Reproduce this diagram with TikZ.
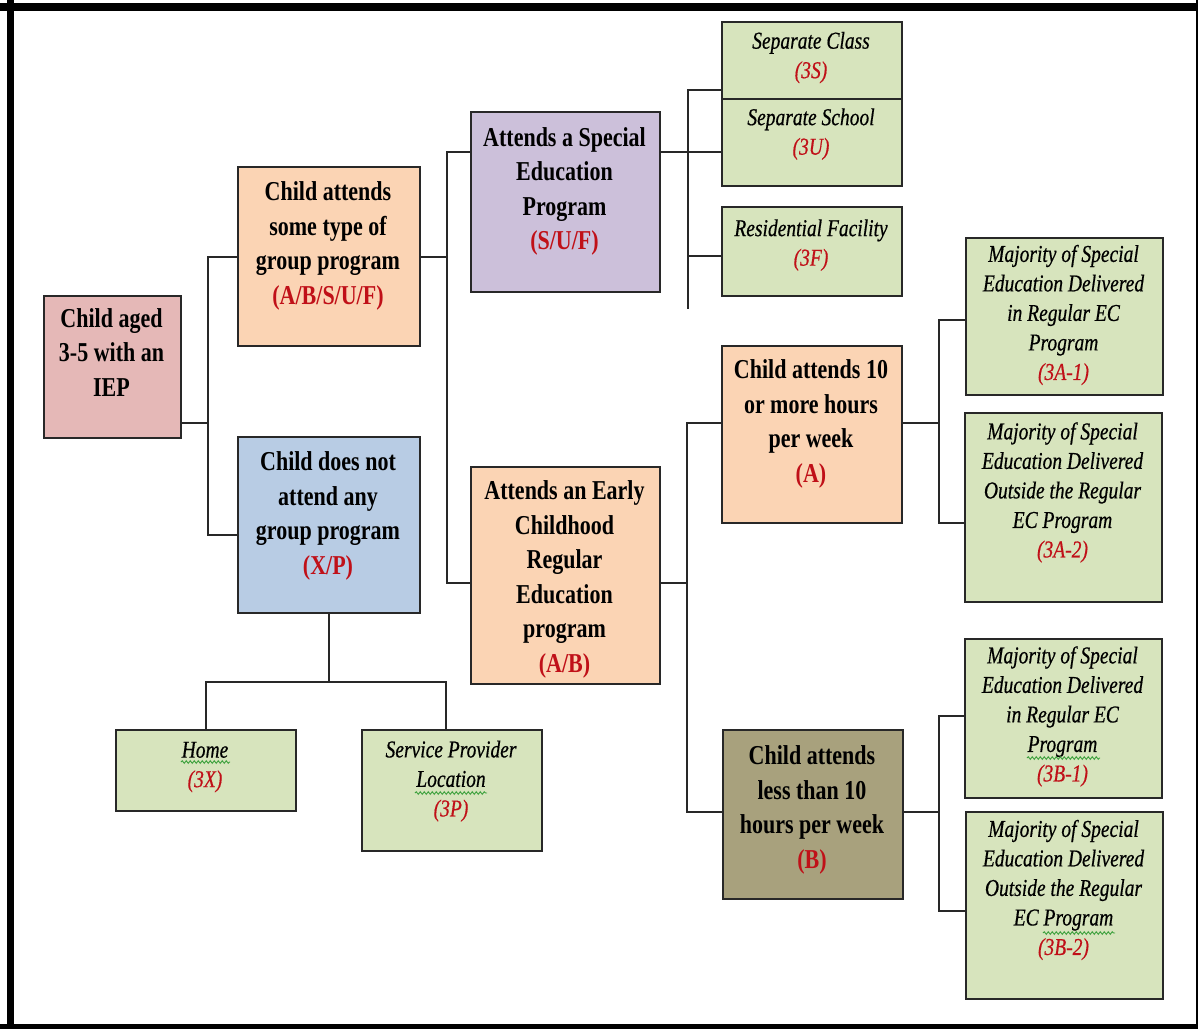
\documentclass[tikz,border=0pt]{standalone}
\usepackage{fontspec}
\setmainfont{Liberation Serif}
\newfontface\leafit{Liberation Serif Italic}[FakeBold=0.6]
\usepackage{graphicx}
\usetikzlibrary{calc,decorations.pathmorphing}
\definecolor{pinkbox}{RGB}{229,184,183}
\definecolor{peach}{RGB}{251,212,180}
\definecolor{bluebox}{RGB}{184,204,228}
\definecolor{lav}{RGB}{204,192,218}
\definecolor{leaf}{RGB}{215,228,189}
\definecolor{olivebox}{RGB}{168,161,125}
\definecolor{codered}{RGB}{192,16,24}
\definecolor{squig}{RGB}{60,160,60}
\definecolor{edge}{RGB}{40,40,40}
\newcommand\bt[1]{\scalebox{1}[1.24]{\fontsize{22}{27.8}\selectfont\bfseries\begin{tabular}{@{}c@{}}#1\end{tabular}}}
\newcommand\lt[1]{\scalebox{1}[1.24]{\fontsize{19.5}{23.8}\selectfont\leafit\begin{tabular}{@{}c@{}}#1\end{tabular}}}
\newcommand\rc[1]{\textcolor{codered}{#1}}
\tikzset{
  box/.style={draw=edge, line width=2pt, inner sep=0pt, anchor=north west},
  txt/.style={inner sep=0pt, anchor=center},
  conn/.style={draw=edge, line width=2pt},
  frame/.style={draw=black},
  squiggle/.style={draw=squig, line width=0.9pt, decorate, decoration={snake, amplitude=1.3pt, segment length=4pt}}
}
\newcommand\mkbox[6]{\node[box,fill=#6,minimum width={(#4)-(#2)},minimum height={(#5)-(#3)}] (#1) at (#2,#3) {};}
\begin{document}
\begin{tikzpicture}[x=1pt,y=-1pt]
\useasboundingbox (0,0) rectangle (1198,1029);
\fill[white] (0,0) rectangle (1198,1029);
% frame
\draw[frame,line width=7pt] (10.5,0) -- (10.5,1029);
\draw[frame,line width=8pt] (0,7) -- (1198,7);
\draw[frame,line width=3pt] (1197,0) -- (1197,1029);
\draw[frame,line width=5pt] (0,1026.5) -- (1198,1026.5);
% boxes
\mkbox{root}{43}{295}{180}{437}{pinkbox}
\mkbox{G}{237}{166}{419}{345}{peach}
\mkbox{N}{237}{436}{419}{612}{bluebox}
\mkbox{S}{470}{111}{659}{291}{lav}
\mkbox{E}{470}{466}{659}{683}{peach}
\mkbox{A}{721}{345}{901}{522}{peach}
\mkbox{B}{722}{729}{902}{898}{olivebox}
\mkbox{cls}{721}{21}{901}{98}{leaf}
\mkbox{sch}{721}{98}{901}{185}{leaf}
\mkbox{res}{721}{206}{901}{295}{leaf}
\mkbox{a1}{965}{237}{1162}{394}{leaf}
\mkbox{a2}{964}{412}{1161}{601}{leaf}
\mkbox{b1}{964}{638}{1161}{797}{leaf}
\mkbox{b2}{965}{811}{1162}{998}{leaf}
\mkbox{home}{115}{729}{295}{810}{leaf}
\mkbox{sp}{361}{729}{541}{850}{leaf}
% texts
\node[txt] (troot) at (111.5,355) {\bt{Child aged\\3-5 with an\\IEP}};
\node[txt] (tG) at (328,245.5) {\bt{Child attends\\some type of\\group program\\\rc{(A/B/S/U/F)}}};
\node[txt] (tN) at (328,515.5) {\bt{Child does not\\attend any\\group program\\\rc{(X/P)}}};
\node[txt] (tS) at (564.5,191) {\bt{Attends a Special\\Education\\Program\\\rc{(S/U/F)}}};
\node[txt] (tE) at (564.5,579) {\bt{Attends an Early\\Childhood\\Regular\\Education\\program\\\rc{(A/B)}}};
\node[txt] (tA) at (811,423.5) {\bt{Child attends 10\\or more hours\\per week\\\rc{(A)}}};
\node[txt] (tB) at (812,809.5) {\bt{Child attends\\less than 10\\hours per week\\\rc{(B)}}};
\node[txt] (tcls) at (811,57.5) {\lt{Separate Class\\\rc{(3S)}}};
\node[txt] (tsch) at (811,134) {\lt{Separate School\\\rc{(3U)}}};
\node[txt] (tres) at (811,245) {\lt{Residential Facility\\\rc{(3F)}}};
\node[txt] (ta1) at (1063.5,315) {\lt{Majority of Special\\Education Delivered\\in Regular EC\\Program\\\rc{(3A-1)}}};
\node[txt] (ta2) at (1062.5,492.5) {\lt{Majority of Special\\Education Delivered\\Outside the Regular\\EC Program\\\rc{(3A-2)}}};
\node[txt] (tb1) at (1062.5,716.5) {\lt{Majority of Special\\Education Delivered\\in Regular EC\\Program\\\rc{(3B-1)}}};
\node[txt] (tb2) at (1063.5,890) {\lt{Majority of Special\\Education Delivered\\Outside the Regular\\EC Program\\\rc{(3B-2)}}};
\node[txt] (thome) at (205,766.5) {\lt{Home\\\rc{(3X)}}};
\node[txt] (tsp) at (451,781) {\lt{Service Provider\\Location\\\rc{(3P)}}};
% spell-check squiggles
\draw[squiggle] (181,762) -- (230,762);
\draw[squiggle] (415,793) -- (487,793);
\draw[squiggle] (1027,758) -- (1100,758);
\draw[squiggle] (1043,933) -- (1115,933);
% connectors
\coordinate (ro) at ([yshift=16pt]root.south east);
\coordinate (j1) at ($(ro)+(26,0)$);
\draw[conn] (ro) -- (j1);
\draw[conn] (G.west) -| (j1);
\draw[conn] ([yshift=-10pt]N.west) -| (j1);
\coordinate (j2) at ($(G.east)+(26,0)$);
\draw[conn] (G.east) -- (j2);
\draw[conn] ([yshift=50pt]S.west) -| (j2);
\draw[conn] ([yshift=-7.5pt]E.west) -| (j2);
\coordinate (so) at ([yshift=50pt]S.east);
\coordinate (j3) at ($(so)+(27,0)$);
\coordinate (dang) at ($(j3)+(0,157)$);
\draw[conn] (so) -- (so -| sch.west);
\draw[conn] ([yshift=-29.5pt]cls.west) -| (dang);
\draw[conn] ([yshift=-4.5pt]res.west) -| (j3);
\coordinate (eo) at ([yshift=-7.5pt]E.east);
\coordinate (j4) at ($(eo)+(26,0)$);
\draw[conn] (eo) -- (j4);
\draw[conn] ([yshift=11.5pt]A.west) -| (j4);
\draw[conn] ([yshift=2.5pt]B.west) -| (j4);
\coordinate (ao) at ([yshift=11.5pt]A.east);
\coordinate (j5) at ($(ao)+(36,0)$);
\draw[conn] (ao) -- (j5);
\draw[conn] ([yshift=-3.5pt]a1.west) -| (j5);
\draw[conn] ([yshift=-15.5pt]a2.west) -| (j5);
\coordinate (bo) at ([yshift=2.5pt]B.east);
\coordinate (j6) at ($(bo)+(35,0)$);
\draw[conn] (bo) -- (j6);
\draw[conn] ([yshift=2.5pt]b1.west) -| (j6);
\draw[conn] ([yshift=-5.5pt]b2.west) -| (j6);
\coordinate (j7) at ($(N.south)+(0,68)$);
\draw[conn] (N.south) -- (j7);
\draw[conn] (home.north) |- (j7);
\draw[conn] ([xshift=-6pt]sp.north) |- (j7);
\end{tikzpicture}
\end{document}
